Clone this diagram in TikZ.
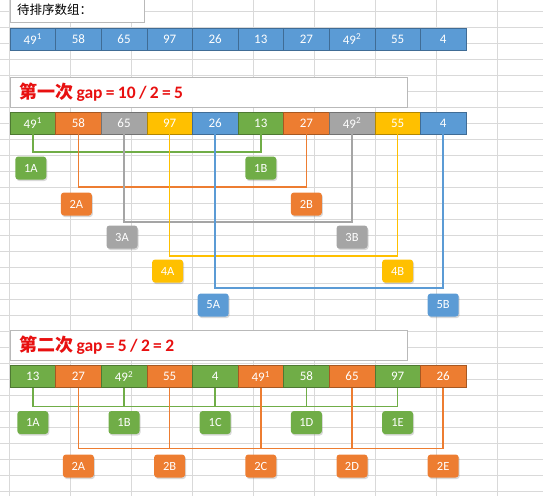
\documentclass[tikz,border=0pt]{standalone}
\usepackage{fontspec}
\setmainfont{Carlito}
\newfontfamily\cjk{Noto Sans CJK SC}
\usetikzlibrary{shadows}
\definecolor{xgreen}{HTML}{70AD47}
\definecolor{xorange}{HTML}{ED7D31}
\definecolor{xgray}{HTML}{A5A5A5}
\definecolor{xyellow}{HTML}{FFC000}
\definecolor{xblue}{HTML}{5B9BD5}
\definecolor{gridgray}{HTML}{D9D9D9}
\definecolor{titlered}{HTML}{E81010}

\begin{document}
\begin{tikzpicture}[
    x=1pt, y=-1pt,
    gridline/.style={draw=gridgray, line width=0.6pt},
    cell/.style={draw=#1!70!black, fill=#1, minimum width=45.6pt, minimum height=22pt, inner sep=0pt, text=white, font=\fontsize{13}{15}\selectfont},
    tag/.style={fill=#1, rounded corners=3pt, minimum width=31pt, minimum height=23pt, inner sep=0pt, text=white, font=\fontsize{12.5}{14}\selectfont, drop shadow={opacity=0.3, shadow xshift=1pt, shadow yshift=-1.5pt}},
    titlebox/.style={draw=gray!55, fill=white, anchor=north west, minimum height=30pt, text width=379pt, inner xsep=9pt, align=left, text=titlered},
    link/.style={draw=#1, line width=1.5pt}
]
\useasboundingbox (0,0) rectangle (543,496);

% 表格网格
\foreach \k in {0,...,8} \draw[gridline] (9.3+61*\k,0) -- (9.3+61*\k,496);
\foreach \k in {0,...,30} \draw[gridline] (0,11+16*\k) -- (543,11+16*\k);

% 标题
\node[draw=gray!55, fill=white, anchor=north west, minimum width=134pt, minimum height=24pt, text width=120pt, inner xsep=7pt, font=\cjk\fontsize{12.5}{14}\selectfont] (head) at (10,-2) {待排序数组：};
\node[titlebox] (gap1) at (10,77) {{\cjk\bfseries\fontsize{18}{20}\selectfont 第一次} {\bfseries\fontsize{17.5}{19}\selectfont gap = 10 / 2 = 5}};
\node[titlebox] (gap2) at (10,330) {{\cjk\bfseries\fontsize{18}{20}\selectfont 第二次} {\bfseries\fontsize{17.5}{19}\selectfont gap = 5 / 2 = 2}};

% 三行数组
\foreach \v [count=\i from 0] in {49\textsuperscript{1},58,65,97,26,13,27,49\textsuperscript{2},55,4}
    \node[cell=xblue] (a\i) at (32.8+45.6*\i,39) {\v};
\foreach \v/\c [count=\i from 0] in {49\textsuperscript{1}/xgreen,58/xorange,65/xgray,97/xyellow,26/xblue,13/xgreen,27/xorange,49\textsuperscript{2}/xgray,55/xyellow,4/xblue}
    \node[cell=\c] (b\i) at (32.8+45.6*\i,123) {\v};
\foreach \v/\c [count=\i from 0] in {13/xgreen,27/xorange,49\textsuperscript{2}/xgreen,55/xorange,4/xgreen,49\textsuperscript{1}/xorange,58/xgreen,65/xorange,97/xgreen,26/xorange}
    \node[cell=\c] (c\i) at (32.8+45.6*\i,376.5) {\v};

% 第一次分组
\draw[link=xgreen] (b0.south) -- ++(0,18) -| (b5.south);
\draw[link=xorange] (b1.south) -- ++(0,53) -| (b6.south);
\draw[link=xgray] (b2.south) -- ++(0,88) -| (b7.south);
\draw[link=xyellow] (b3.south) -- ++(0,122) -| (b8.south);
\draw[link=xblue] (b4.south) -- ++(0,154) -| (b9.south);
\foreach \n/\c/\y/\i/\j in {1/xgreen/168/0/5,2/xorange/204/1/6,3/xgray/237/2/7,4/xyellow/271/3/8,5/xblue/305/4/9} {
    \node[tag=\c, xshift=-2pt] (p\n a) at (b\i.center |- 0,\y) {\n A};
    \node[tag=\c] (p\n b) at (b\j.center |- 0,\y) {\n B};
}

% 第二次分组
\draw[link=xgreen] (c0.south) -- ++(0,19) -| (c8.south);
\foreach \i in {2,4,6} \draw[link=xgreen] (c\i.south) -- ++(0,19);
\draw[link=xorange] (c1.south) -- ++(0,61) -| (c9.south);
\foreach \i in {3,5,7} \draw[link=xorange] (c\i.south) -- ++(0,61);
\foreach \s/\i in {A/0,B/2,C/4,D/6,E/8}
    \node[tag=xgreen] (q1\s) at (c\i.center |- 0,422.5) {1\s};
\foreach \s/\i in {A/1,B/3,C/5,D/7,E/9}
    \node[tag=xorange] (q2\s) at (c\i.center |- 0,466) {2\s};

\end{tikzpicture}
\end{document}
